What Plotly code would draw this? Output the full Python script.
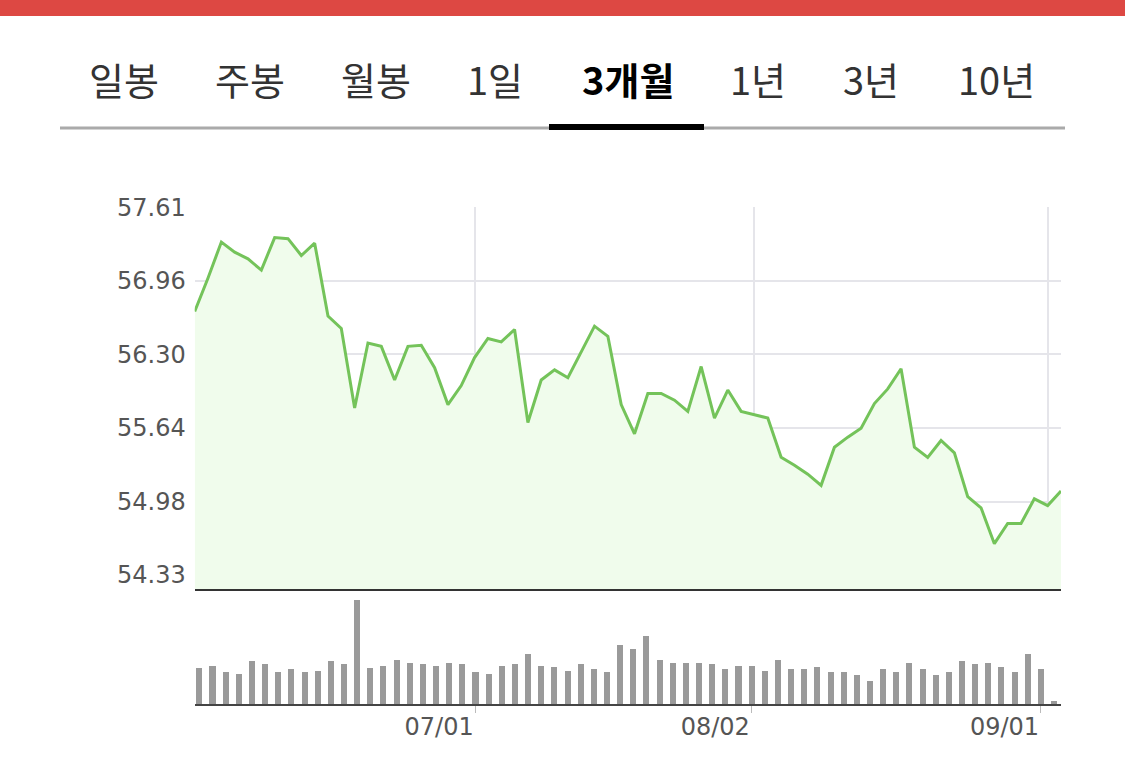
import plotly.graph_objects as go

# ---- data ----
tabs = ["일봉", "주봉", "월봉", "1일", "3개월", "1년", "3년", "10년"]
active_tab = "3개월"

prices = [56.68, 56.98, 57.30, 57.21, 57.15, 57.05, 57.34, 57.33, 57.18, 57.29,
          56.64, 56.53, 55.82, 56.40, 56.37, 56.07, 56.37, 56.38, 56.18, 55.85,
          56.02, 56.27, 56.44, 56.41, 56.52, 55.69, 56.07, 56.16, 56.09, 56.32,
          56.55, 56.46, 55.85, 55.59, 55.95, 55.95, 55.89, 55.79, 56.19, 55.73,
          55.98, 55.79, 55.76, 55.73, 55.38, 55.31, 55.23, 55.13, 55.47, 55.56,
          55.64, 55.86, 55.99, 56.17, 55.47, 55.38, 55.53, 55.42, 55.03, 54.93,
          54.61, 54.79, 54.79, 55.01, 54.95, 55.08]

volumes = [366, 383, 320, 306, 430, 400, 320, 353, 320, 336,
           430, 400, 1040, 366, 383, 443, 413, 400, 383, 413,
           400, 320, 306, 383, 400, 506, 383, 370, 336, 400,
           353, 320, 596, 550, 686, 443, 413, 413, 413, 400,
           353, 383, 383, 336, 443, 353, 353, 370, 320, 320,
           290, 230, 353, 320, 413, 353, 290, 320, 430, 400,
           413, 370, 320, 506, 353, 33]

x_idx = list(range(len(prices)))
date_tick_idx = [21, 42, 64]
date_tick_text = ["07/01", "08/02", "09/01"]

y_tick_vals = [54.33, 54.986, 55.642, 56.298, 56.954, 57.61]
y_tick_text = ["54.33", "54.98", "55.64", "56.30", "56.96", "57.61"]
y_range = [54.203, 57.61]
vol_range = [0, 1123]

# ---- figure ----
W, H = 1125, 762
def px_y(y):
    return (H - y) / H
def px_x(x):
    return x / W

x0, x1 = px_x(194.7), px_x(1061)

fig = go.Figure()

fig.add_trace(go.Scatter(
    x=x_idx, y=prices, mode="lines",
    line=dict(color="#74c35a", width=3),
    fill="tozeroy", fillcolor="#f0fcec",
    xaxis="x", yaxis="y", hoverinfo="skip", showlegend=False,
))

fig.add_trace(go.Bar(
    x=x_idx, y=volumes, width=0.46,
    marker=dict(color="#9a9a9a", line=dict(width=0)),
    xaxis="x2", yaxis="y2", hoverinfo="skip", showlegend=False,
))

tick_font = dict(family="DejaVu Sans", size=24, color="#555555")

fig.update_layout(
    width=W, height=H, autosize=False,
    margin=dict(l=0, r=0, t=0, b=0, pad=0),
    paper_bgcolor="white", plot_bgcolor="white",
    xaxis=dict(
        domain=[x0, x1], range=[0, len(prices) - 1],
        tickvals=date_tick_idx, showticklabels=False, ticks="",
        showgrid=True, gridcolor="#e5e5ea", gridwidth=1.5,
        showline=True, linecolor="#333333", linewidth=2,
        zeroline=False, anchor="y", automargin=False,
    ),
    yaxis=dict(
        domain=[px_y(589.3), px_y(207.3)], range=y_range,
        tickvals=y_tick_vals, ticktext=y_tick_text, tickfont=tick_font,
        showgrid=True, gridcolor="#e5e5ea", gridwidth=1.5,
        zeroline=False, showline=False, ticks="", ticklabelstandoff=8,
        anchor="x", automargin=False,
    ),
    xaxis2=dict(
        domain=[x0, x1], range=[-0.33, 65.55],
        tickvals=date_tick_idx, ticktext=date_tick_text, tickfont=tick_font,
        ticklabelposition="outside left",
        ticks="outside", ticklen=7, tickcolor="#bbbbbb", tickwidth=1,
        showgrid=False, zeroline=False,
        showline=True, linecolor="#444444", linewidth=2,
        anchor="y2", automargin=False,
    ),
    yaxis2=dict(
        domain=[px_y(704.3), px_y(592)], range=vol_range,
        showticklabels=False, showgrid=False, zeroline=False, ticks="",
        anchor="x2", automargin=False,
    ),
    bargap=0,
)

# header bar and tab underline
shapes = [
    dict(type="rect", xref="paper", yref="paper", x0=0, x1=1, y0=px_y(16), y1=1,
         fillcolor="#dd4843", line=dict(width=0)),
    dict(type="rect", xref="paper", yref="paper", x0=px_x(60), x1=px_x(1065),
         y0=px_y(129.5), y1=px_y(126.5), fillcolor="#aaaaaa", line=dict(width=0)),
    dict(type="rect", xref="paper", yref="paper", x0=px_x(549), x1=px_x(704),
         y0=px_y(130), y1=px_y(124), fillcolor="#000000", line=dict(width=0)),
]
fig.update_layout(shapes=shapes)

tab_centers = [124, 250, 376, 495, 628, 758, 871, 996]
annotations = []
for t, cx in zip(tabs, tab_centers):
    active = (t == active_tab)
    annotations.append(dict(
        x=px_x(cx), y=px_y(79), xref="paper", yref="paper",
        text=f"<b>{t}</b>" if active else t, showarrow=False,
        xanchor="center", yanchor="middle",
        font=dict(family="Noto Sans CJK KR", size=38,
                  color="#000000" if active else "#333333"),
    ))
fig.update_layout(annotations=annotations)

fig.write_html(
    "out.html",
    config={"displayModeBar": False},
    post_script="document.body.style.margin='0';document.body.style.overflow='hidden';",
)
